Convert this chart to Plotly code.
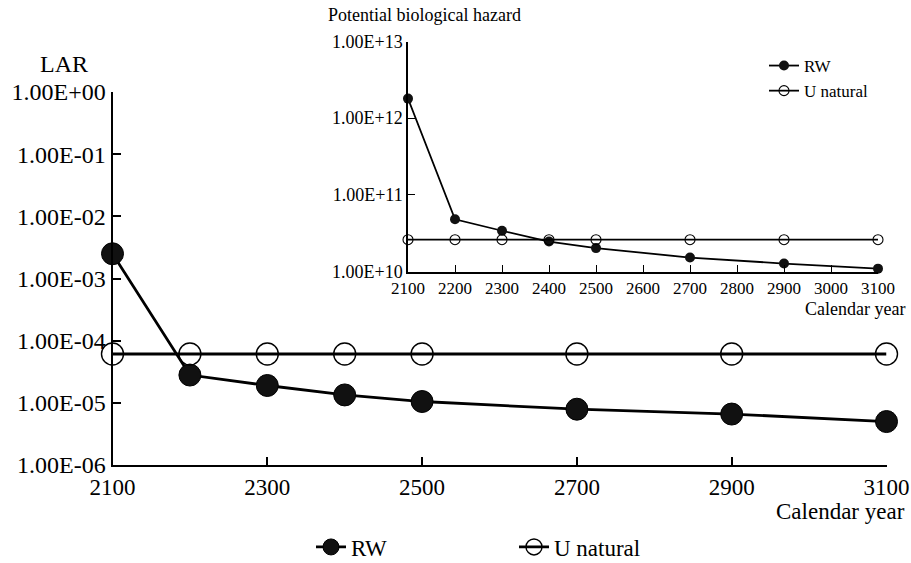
import plotly.graph_objects as go

# ---- data ----
years_main = [2100, 2200, 2300, 2400, 2500, 2700, 2900, 3100]
lar_rw = [2.5e-3, 2.8e-5, 1.9e-5, 1.34e-5, 1.05e-5, 7.9e-6, 6.6e-6, 5.0e-6]
lar_u = [6.1e-5, 6.1e-5, 6.1e-5, 6.1e-5, 6.1e-5, 6.1e-5, 6.1e-5, 6.1e-5]

pbh_rw = [1.8e12, 4.8e10, 3.4e10, 2.46e10, 2.02e10, 1.52e10, 1.27e10, 1.09e10]
pbh_u = [2.6e10, 2.6e10, 2.6e10, 2.6e10, 2.6e10, 2.6e10, 2.6e10, 2.6e10]

main_yticks = [1e0, 1e-1, 1e-2, 1e-3, 1e-4, 1e-5, 1e-6]
main_yticktext = ["1.00E+00", "1.00E-01", "1.00E-02", "1.00E-03", "1.00E-04", "1.00E-05", "1.00E-06"]
main_xticks = [2100, 2300, 2500, 2700, 2900, 3100]
inset_yticks = [1e13, 1e12, 1e11, 1e10]
inset_yticktext = ["1.00E+13", "1.00E+12", "1.00E+11", "1.00E+10"]
inset_xticks = [2100, 2200, 2300, 2400, 2500, 2600, 2700, 2800, 2900, 3000, 3100]

W, H = 911, 563
FONT = "Liberation Serif"

def px(x):
    return x / W

def py(y):
    return 1 - y / H

fig = go.Figure()

fig.add_trace(go.Scatter(
    x=years_main, y=lar_rw, mode="lines+markers", name="RW",
    line=dict(color="black", width=2.8),
    marker=dict(symbol="circle", size=22, color="#111111", line=dict(color="black", width=1)),
    cliponaxis=False, legend="legend", xaxis="x", yaxis="y"))
fig.add_trace(go.Scatter(
    x=years_main, y=lar_u, mode="lines+markers", name="U natural",
    line=dict(color="black", width=2.8),
    marker=dict(symbol="circle-open", size=22, color="black", line=dict(color="black", width=1.4)),
    cliponaxis=False, legend="legend", xaxis="x", yaxis="y"))

fig.add_trace(go.Scatter(
    x=years_main, y=pbh_rw, mode="lines+markers", name="RW",
    line=dict(color="black", width=1.8),
    marker=dict(symbol="circle", size=10, color="#111111"),
    cliponaxis=False, legend="legend2", xaxis="x2", yaxis="y2"))
fig.add_trace(go.Scatter(
    x=years_main, y=pbh_u, mode="lines+markers", name="U natural",
    line=dict(color="black", width=1.8),
    marker=dict(symbol="circle-open", size=10, color="black", line=dict(color="black", width=1.1)),
    cliponaxis=False, legend="legend2", xaxis="x2", yaxis="y2"))

axis_common = dict(showgrid=False, zeroline=False, showline=True, linecolor="black",
                   ticks="inside", tickcolor="black", automargin=False)

fig.update_layout(
    width=W, height=H,
    margin=dict(l=0, r=0, t=0, b=0, autoexpand=False),
    paper_bgcolor="white", plot_bgcolor="rgba(0,0,0,0)",
    font=dict(family=FONT, color="black"),
    xaxis=dict(domain=[px(112.5), px(886.5)], range=[2100, 3100], tickvals=main_xticks,
               linewidth=2, ticklen=8, tickwidth=1.5,
               tickfont=dict(size=23, family=FONT), anchor="y", **axis_common),
    yaxis=dict(domain=[py(465), py(92)], type="log", range=[-6, 0],
               tickvals=main_yticks, ticktext=main_yticktext,
               linewidth=2, ticklen=8, tickwidth=1.5,
               tickfont=dict(size=24, family=FONT), anchor="x", **axis_common),
    xaxis2=dict(domain=[px(408), px(878)], range=[2100, 3100], tickvals=inset_xticks,
                linewidth=1.5, ticklen=7, tickwidth=1,
                tickfont=dict(size=17, family=FONT), anchor="y2", **axis_common),
    yaxis2=dict(domain=[py(271.5), py(41.5)], type="log", range=[10, 13],
                tickvals=inset_yticks, ticktext=inset_yticktext,
                linewidth=1.5, ticklen=7, tickwidth=1,
                tickfont=dict(size=18, family=FONT), anchor="x2", **axis_common),
    legend=dict(orientation="h", x=px(311), xanchor="left", y=py(547), yanchor="middle",
                font=dict(size=23, family=FONT), bgcolor="rgba(0,0,0,0)",
                entrywidth=158, entrywidthmode="pixels", itemsizing="trace"),
    legend2=dict(x=px(764), xanchor="left", y=py(48), yanchor="top",
                 font=dict(size=17, family=FONT), bgcolor="rgba(0,0,0,0)",
                 itemsizing="trace", tracegroupgap=0),
    showlegend=True,
)

fig.add_annotation(text="LAR", x=px(64), y=py(64), xref="paper", yref="paper",
                   showarrow=False, font=dict(size=24, family=FONT), xanchor="center", yanchor="middle")
fig.add_annotation(text="Calendar year", x=px(907), y=py(511), xref="paper", yref="paper",
                   showarrow=False, font=dict(size=23, family=FONT), xanchor="right", yanchor="middle")
fig.add_annotation(text="Potential biological hazard", x=px(326), y=py(15), xref="paper", yref="paper",
                   showarrow=False, font=dict(size=18, family=FONT), xanchor="left", yanchor="middle")
fig.add_annotation(text="Calendar year", x=px(907), y=py(309), xref="paper", yref="paper",
                   showarrow=False, font=dict(size=18, family=FONT), xanchor="right", yanchor="middle")

fig.write_html("out.html",
               config={"displayModeBar": False},
               post_script="document.body.style.margin='0px';document.body.style.overflow='hidden';")
